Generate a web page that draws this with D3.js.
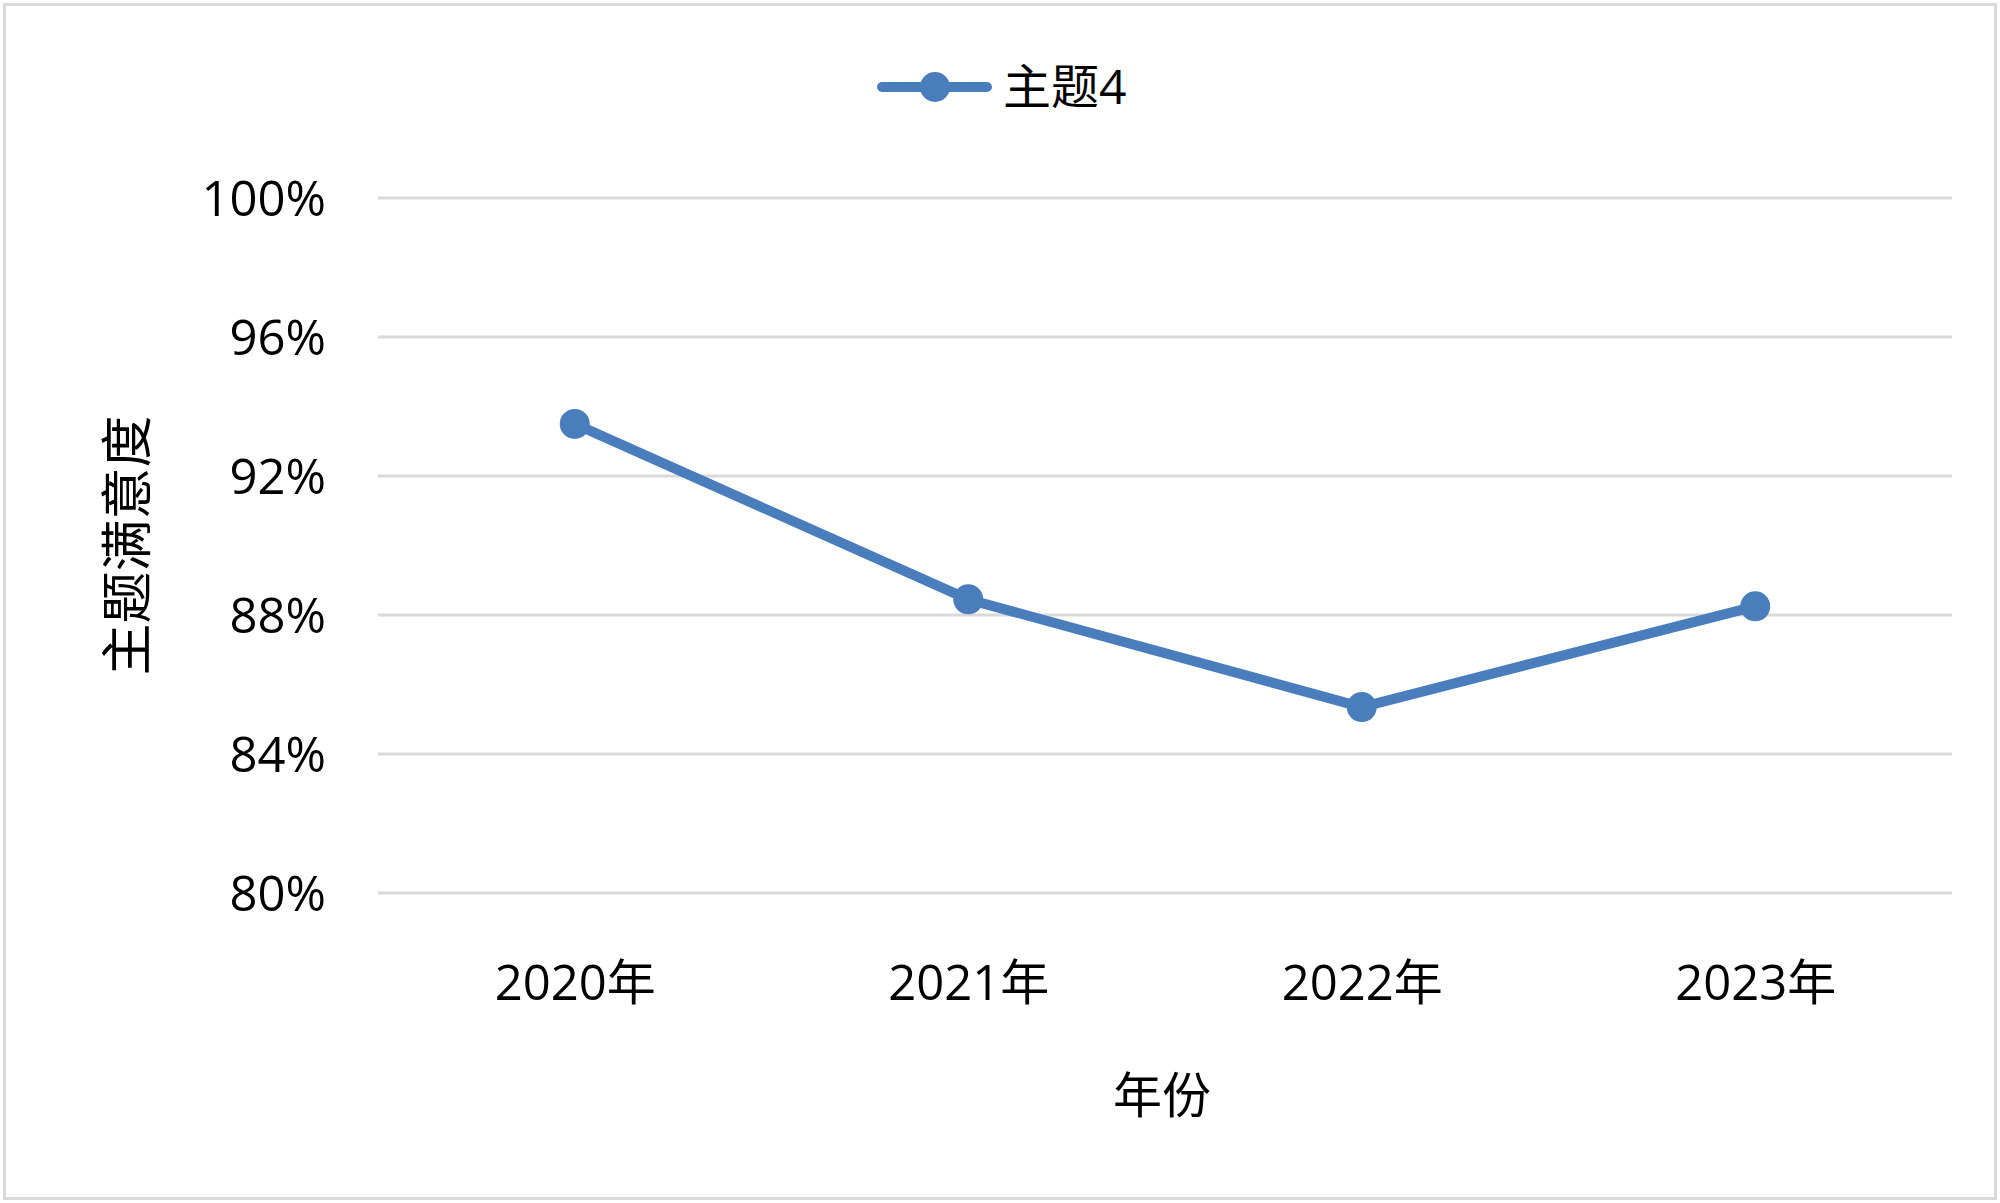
<!DOCTYPE html>
<html>
<head>
<meta charset="utf-8">
<script src="https://cdn.jsdelivr.net/npm/d3@7"></script>
<style>
  body { margin: 0; background: #fff; }
  text { font-family: "Open Sans", "Noto Sans CJK SC", sans-serif; fill: #000; }
</style>
</head>
<body>
<div id="chart"></div>
<script>
// data
var years = ["2020年", "2021年", "2022年", "2023年"];
var values = [0.935, 0.8845, 0.8535, 0.8825];
var yTicks = [0.80, 0.84, 0.88, 0.92, 0.96, 1.00];
var seriesName = "主题4";
var xTitle = "年份";
var yTitle = "主题满意度";

var W = 2000, H = 1203;
var margin = {top: 198, bottom: 310, left: 378, right: 48};
var blue = "#4a7dbb";

var svg = d3.select("#chart")
  .append("svg")
  .attr("width", W)
  .attr("height", H);

// outer frame
svg.append("rect")
  .attr("x", 4.5).attr("y", 4.5)
  .attr("width", W - 9).attr("height", H - 9)
  .attr("fill", "#fff")
  .attr("stroke", "#d9d9d9")
  .attr("stroke-width", 3);

var x = d3.scalePoint()
  .domain(years)
  .range([margin.left, W - margin.right])
  .padding(0.5);

var y = d3.scaleLinear()
  .domain([0.80, 1.00])
  .range([H - margin.bottom, margin.top]);

// gridlines
svg.append("g")
  .selectAll("line")
  .data(yTicks)
  .enter()
  .append("line")
  .attr("x1", margin.left)
  .attr("x2", W - margin.right)
  .attr("y1", d => y(d))
  .attr("y2", d => y(d))
  .attr("stroke", "#d9d9d9")
  .attr("stroke-width", 3);

// y axis labels
var yAxis = d3.axisLeft(y)
  .tickValues(yTicks)
  .tickFormat(d3.format(".0%"))
  .tickSize(0)
  .tickPadding(0);

var gy = svg.append("g")
  .attr("transform", "translate(326,0)")
  .call(yAxis);
gy.select(".domain").remove();
gy.selectAll("text")
  .attr("font-size", 49)
  .attr("font-family", "'Open Sans', sans-serif")
  .attr("dy", "0.35em");

// x axis labels
var xAxis = d3.axisBottom(x).tickSize(0).tickPadding(0);
var gx = svg.append("g")
  .attr("transform", "translate(0,1000)")
  .call(xAxis);
gx.select(".domain").remove();
gx.selectAll("text")
  .attr("font-size", 49)
  .attr("font-family", "'Open Sans', 'Noto Sans CJK SC', sans-serif")
  .attr("dy", 0);

// line
var line = d3.line()
  .x((d, i) => x(years[i]))
  .y(d => y(d));

svg.append("path")
  .datum(values)
  .attr("d", line)
  .attr("fill", "none")
  .attr("stroke", blue)
  .attr("stroke-width", 10)
  .attr("stroke-linejoin", "round");

svg.selectAll(".pt")
  .data(values)
  .enter()
  .append("circle")
  .attr("class", "pt")
  .attr("cx", (d, i) => x(years[i]))
  .attr("cy", d => y(d))
  .attr("r", 15)
  .attr("fill", blue);

// legend
var lg = svg.append("g").attr("transform", "translate(877,87)");
lg.append("line")
  .attr("x1", 5).attr("x2", 110)
  .attr("y1", 0).attr("y2", 0)
  .attr("stroke", blue)
  .attr("stroke-width", 10)
  .attr("stroke-linecap", "round");
lg.append("circle")
  .attr("cx", 58).attr("cy", 0).attr("r", 15)
  .attr("fill", blue);
lg.append("text")
  .attr("x", 126)
  .attr("y", 0)
  .attr("dy", "0.36em")
  .attr("font-size", 48)
  .attr("font-family", "'Noto Sans CJK SC', sans-serif")
  .text(seriesName);

// axis titles
svg.append("text")
  .attr("x", 1162)
  .attr("y", 1095)
  .attr("dy", "0.36em")
  .attr("text-anchor", "middle")
  .attr("font-size", 49)
  .attr("font-family", "'Noto Sans CJK SC', sans-serif")
  .text(xTitle);

svg.append("text")
  .attr("transform", "translate(127," + ((margin.top + H - margin.bottom) / 2) + ") rotate(-90)")
  .attr("dy", "0.36em")
  .attr("text-anchor", "middle")
  .attr("font-size", 52)
  .attr("font-family", "'Noto Sans CJK SC', sans-serif")
  .text(yTitle);
</script>
</body>
</html>
